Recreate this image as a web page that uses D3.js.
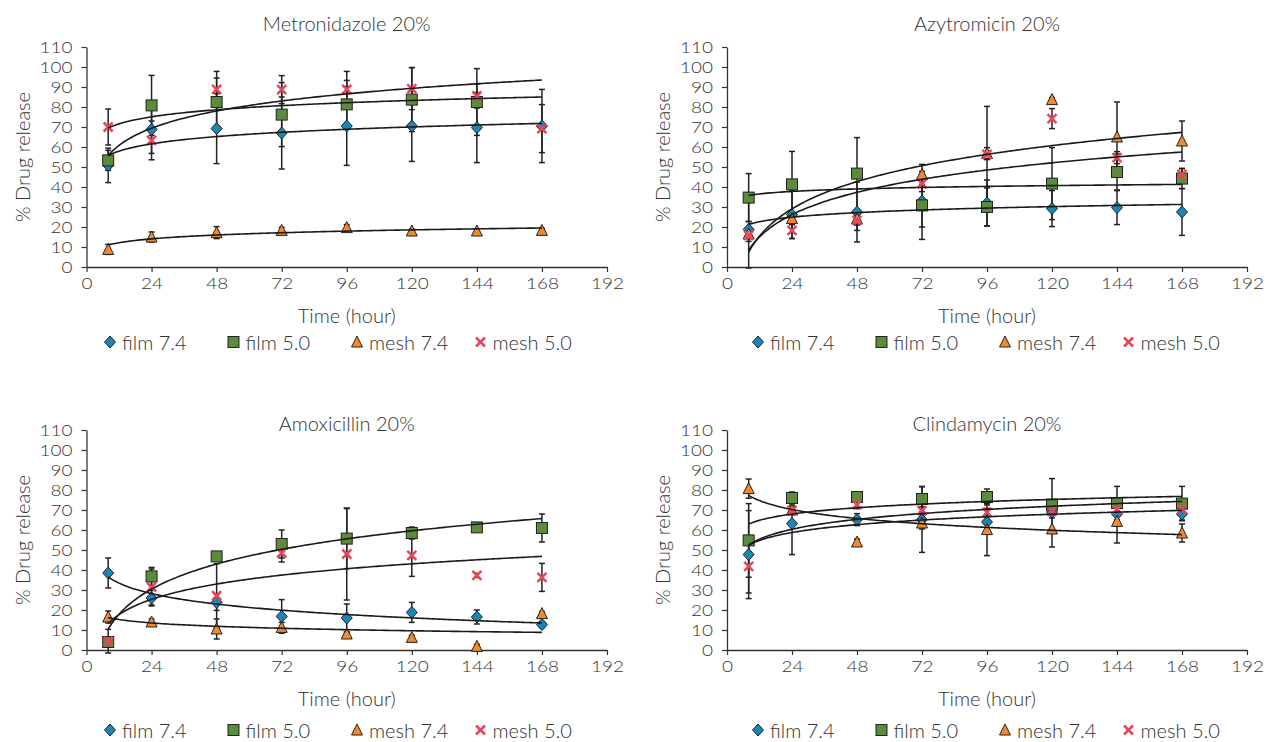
<!DOCTYPE html>
<html>
<head>
<meta charset="utf-8">
<script src="https://cdn.jsdelivr.net/npm/d3@7"></script>
<style>
  body { margin: 0; background: #fff; }
  svg text { font-family: Lato, "Noto Sans", sans-serif; font-weight: 300; fill: #333; }
</style>
</head>
<body>
<svg id="chart" width="1277" height="742"></svg>
<script>
const hours = [8, 24, 48, 72, 96, 120, 144, 168];
const seriesNames = ["film 7.4", "film 5.0", "mesh 7.4", "mesh 5.0"];
const xTicks = [0, 24, 48, 72, 96, 120, 144, 168, 192];
const yTicks = [0, 10, 20, 30, 40, 50, 60, 70, 80, 90, 100, 110];

// Metronidazole 20%
const metroFilm74 = [50.8, 68.8, 69.2, 67, 70.5, 70.5, 69.7, 70.5];
const metroFilm50 = [53.3, 80.8, 82.5, 76.2, 81.3, 83.7, 82.5, null];
const metroMesh74 = [8.8, 15, 17.2, 18.3, 19.7, 18, 18, 18.3];
const metroMesh50 = [70, 63.3, 88.8, 88.7, 88.8, 89.2, 85.5, 69.2];
const metroErrFilm74 = [8.6, 12, 17.5, 18, 19.7, 17.7, 17.5, 18.3];
const metroErrFilm50 = [5, 15, 12, 16, 12, 16, 16.7, null];
const metroErrMesh74 = [2.5, 2.5, 3, 1.5, 1.5, 1, 1, 1];
const metroErrMesh50 = [9, 9.7, 9, 7, 9, 10.5, 6, 12];
// trend line values at 8 h and 168 h
const metroTrend = [[55.8, 71.8], [55.8, 93.5], [11, 19.5], [69.5, 85]];

// Azytromicin 20%
const azyFilm74 = [18.8, 26.2, 27.5, 33, 32, 29.2, 29.7, 27.5];
const azyFilm50 = [34.7, 41.3, 46.7, 30.8, 30, 41.7, 47.5, 44.2];
const azyMesh74 = [16.5, 24.2, 24, 46.3, 56.7, 83.7, 65, 63];
const azyMesh50 = [15.8, 18.3, 23.3, 41.7, 56.3, 74.2, 54.7, 46.3];
const azyErrFilm74 = [4, 12, 15, 13, 11.5, 9, 8.5, 11.7];
const azyErrFilm50 = [12, 16.5, 18, 17, 9.5, 18, 9, 5];
const azyErrMesh74 = [17, 3, 3, 5, 3, 1, 17.5, 10];
const azyErrMesh50 = [3, 4, 5, 4, 24, 5, 3, 3];
const azyTrend = [[21.3, 31.3], [35.8, 41.3], [7.5, 67.3], [8.5, 57.5]];

// Amoxicillin 20%
const amoxFilm74 = [38.5, 26, 23.8, 16.8, 16, 18.8, 16.5, 12.7];
const amoxFilm50 = [4, 36.8, 46.8, 53, 55.7, 58.5, 61.3, 61];
const amoxMesh74 = [16.5, 14, 10.5, 11.3, 8, 6.3, 1.8, 18.2];
const amoxMesh50 = [4.3, 31.5, 27.2, 48.5, 48, 47.3, 37.3, 36.3];
const amoxErrFilm74 = [7.5, 4, 4, 8.4, 7, 5, 3.5, 1.5];
const amoxErrFilm50 = [1, 4.5, 1, 7, 15, 3, 1, 7];
const amoxErrMesh74 = [3, 1.5, 5, 2.5, 1, 1, 1, 1];
const amoxErrMesh50 = [6, 9, 16, 4.5, 23, 10.5, 1, 7];
const amoxTrend = [[36.5, 13.5], [10.5, 65.7], [16.2, 8.8], [13.2, 46.8]];

// Clindamycin 20%
const clinFilm74 = [47.7, 63.2, 65.2, 65.2, 64, 69, 68, 68];
const clinFilm50 = [54.8, 76, 76.5, 75.5, 76.5, 72.7, 73.5, 73.2];
const clinMesh74 = [80.7, 70, 54, 63.5, 60.2, 60.5, 64.3, 58.5];
const clinMesh50 = [41.8, 69.8, 72.7, 69.7, 68.8, 69.3, 70.2, 70.5];
const clinErrFilm74 = [22, 15.5, 3, 16.4, 4, 3, 3, 3];
const clinErrFilm50 = [18.4, 3, 1.5, 6.3, 4, 13, 8.3, 8.6];
const clinErrMesh74 = [4.8, 2, 1.5, 3, 13, 9, 10.8, 4.5];
const clinErrMesh50 = [13.3, 2, 2, 2, 2, 2, 2, 2];
const clinTrend = [[52.5, 69.8], [63, 76.8], [77.3, 57.7], [52.5, 74.3]];

const panels = [
  { title: "Metronidazole 20%", values: [metroFilm74, metroFilm50, metroMesh74, metroMesh50],
    errors: [metroErrFilm74, metroErrFilm50, metroErrMesh74, metroErrMesh50], trend: metroTrend,
    left: 86.5, right: 607, top: 47, bottom: 267, titleY: 23, xTitleY: 315, legendY: 342, legendX: 110 },
  { title: "Azytromicin 20%", values: [azyFilm74, azyFilm50, azyMesh74, azyMesh50],
    errors: [azyErrFilm74, azyErrFilm50, azyErrMesh74, azyErrMesh50], trend: azyTrend,
    left: 727, right: 1247, top: 47, bottom: 267, titleY: 23, xTitleY: 315, legendY: 342, legendX: 758 },
  { title: "Amoxicillin 20%", values: [amoxFilm74, amoxFilm50, amoxMesh74, amoxMesh50],
    errors: [amoxErrFilm74, amoxErrFilm50, amoxErrMesh74, amoxErrMesh50], trend: amoxTrend,
    left: 86.5, right: 607, top: 430, bottom: 650, titleY: 423, xTitleY: 698, legendY: 730, legendX: 110 },
  { title: "Clindamycin 20%", values: [clinFilm74, clinFilm50, clinMesh74, clinMesh50],
    errors: [clinErrFilm74, clinErrFilm50, clinErrMesh74, clinErrMesh50], trend: clinTrend,
    left: 727, right: 1247, top: 430, bottom: 650, titleY: 423, xTitleY: 698, legendY: 730, legendX: 758 }
];

const colors = ["#1a86b8", "#5a8c3a", "#f0892f", "#e8455d"];
const ink = "#222";
const fontSize = "20px";
const tickFont = "16.5px";

const svg = d3.select("#chart");

function drawMarker(g, k, cx, cy) {
  if (k === 0) {
    g.append("path")
      .attr("d", `M${cx},${cy - 6}L${cx + 5.5},${cy}L${cx},${cy + 6}L${cx - 5.5},${cy}Z`)
      .attr("fill", colors[0]).attr("stroke", ink).attr("stroke-width", 1);
  } else if (k === 1) {
    g.append("rect")
      .attr("x", cx - 5.5).attr("y", cy - 5.5).attr("width", 11).attr("height", 11)
      .attr("fill", colors[1]).attr("stroke", ink).attr("stroke-width", 1);
  } else if (k === 2) {
    g.append("path")
      .attr("d", `M${cx},${cy - 6}L${cx + 5.5},${cy + 5}L${cx - 5.5},${cy + 5}Z`)
      .attr("fill", colors[2]).attr("stroke", ink).attr("stroke-width", 1);
  } else {
    g.append("path")
      .attr("d", `M${cx - 4.5},${cy - 4.5}L${cx + 4.5},${cy + 4.5}M${cx + 4.5},${cy - 4.5}L${cx - 4.5},${cy + 4.5}`)
      .attr("stroke", colors[3]).attr("stroke-width", 2.5).attr("fill", "none");
  }
}

function drawPanel(p) {
  const x = d3.scaleLinear().domain([0, 192]).range([p.left, p.right]);
  const y = d3.scaleLinear().domain([0, 110]).range([p.bottom, p.top]);
  const g = svg.append("g");

  const xAxis = g.append("g")
    .attr("transform", `translate(0,${p.bottom})`)
    .call(d3.axisBottom(x).tickValues(xTicks).tickSize(5).tickPadding(5).tickSizeOuter(0));
  const yAxis = g.append("g")
    .attr("transform", `translate(${p.left},0)`)
    .call(d3.axisLeft(y).tickValues(yTicks).tickSize(5).tickPadding(9).tickSizeOuter(0));
  [xAxis, yAxis].forEach(a => {
    a.select(".domain").attr("stroke", "#333").attr("stroke-width", 1.3);
    a.selectAll(".tick line").attr("stroke", "#333").attr("stroke-width", 1.2);
    a.selectAll(".tick text").style("font-size", tickFont).attr("fill", "#333");
  });
  // widen tick digits a little without growing their line box
  yAxis.selectAll(".tick text").attr("transform", "scale(1.15,1)").attr("x", -14 / 1.15);
  xAxis.selectAll(".tick text").attr("transform", "scale(1.15,1)");

  const cx = (p.left + p.right) / 2;
  g.append("text").attr("x", cx).attr("y", p.titleY).attr("text-anchor", "middle")
    .attr("dominant-baseline", "central").style("font-size", fontSize).text(p.title);
  g.append("text").attr("x", cx).attr("y", p.xTitleY).attr("text-anchor", "middle")
    .attr("dominant-baseline", "central").style("font-size", fontSize).text("Time (hour)");
  g.append("text")
    .attr("transform", `translate(${p.left - 65},${(p.top + p.bottom) / 2}) rotate(-90)`)
    .attr("text-anchor", "middle").attr("dominant-baseline", "central")
    .style("font-size", fontSize).text("% Drug release");

  // error bars
  p.errors.forEach((errs, k) => {
    errs.forEach((e, i) => {
      const v = p.values[k][i];
      if (e == null || v == null) return;
      const px = x(hours[i]);
      const y1 = y(Math.max(v - e, -1.5)), y2 = y(v + e);
      g.append("line").attr("x1", px).attr("x2", px).attr("y1", y1).attr("y2", y2)
        .attr("stroke", ink).attr("stroke-width", 1.5);
      [y1, y2].forEach(yy => g.append("line").attr("x1", px - 3).attr("x2", px + 3)
        .attr("y1", yy).attr("y2", yy).attr("stroke", ink).attr("stroke-width", 1.5));
    });
  });

  // markers
  p.values.forEach((vals, k) => {
    vals.forEach((v, i) => {
      if (v == null) return;
      drawMarker(g, k, x(hours[i]), y(v));
    });
  });

  // logarithmic trend lines between 8 h and 168 h
  const samples = d3.range(8, 168.01, 1);
  const line = d3.line().x(d => x(d[0])).y(d => y(d[1]));
  p.trend.forEach(([a8, a168]) => {
    const pts = samples.map(h => [h, a8 + (a168 - a8) * Math.log(h / 8) / Math.log(168 / 8)]);
    g.append("path").attr("d", line(pts)).attr("fill", "none")
      .attr("stroke", "#1a1a1a").attr("stroke-width", 1.6);
  });

  // legend
  seriesNames.forEach((name, k) => {
    const lx = p.legendX + k * 123.5;
    drawMarker(g, k, lx, p.legendY);
    g.append("text").attr("x", lx + 12).attr("y", p.legendY)
      .attr("dominant-baseline", "central").style("font-size", fontSize).text(name);
  });
}

panels.forEach(drawPanel);
</script>
</body>
</html>
